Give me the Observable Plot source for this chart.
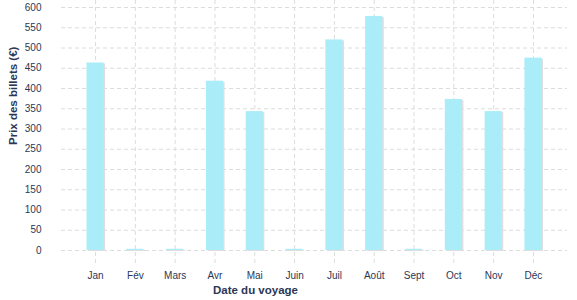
<!DOCTYPE html>
<html>
<head>
<meta charset="utf-8">
<script src="https://cdn.jsdelivr.net/npm/d3@7"></script>
<script src="https://cdn.jsdelivr.net/npm/@observablehq/plot@0.6"></script>
<style>
  body { margin: 0; background: #fff; }
  svg { font-family: "Liberation Sans", Arial, sans-serif; }
</style>
</head>
<body>
<div id="chart"></div>
<script>
const months = ["Jan", "Fév", "Mars", "Avr", "Mai", "Juin", "Juil", "Août", "Sept", "Oct", "Nov", "Déc"];
const prices = [463, 3, 3, 418, 343, 3, 520, 578, 3, 373, 343, 475];
const yTicks = [0, 50, 100, 150, 200, 250, 300, 350, 400, 450, 500, 550, 600];
const xTitle = "Date du voyage";
const yTitle = "Prix des billets (€)";

const data = months.map((m, i) => ({month: m, price: prices[i]}));
const textColor = "#2b3756";
const gridColor = "#dcdcdc";

const chart = Plot.plot({
  width: 577,
  height: 300,
  marginLeft: 61,
  marginRight: 10,
  marginTop: 0,
  marginBottom: 35,
  style: {fontSize: "10px", color: textColor, fontFamily: "'Liberation Sans', Arial, sans-serif"},
  x: {domain: months, paddingInner: 0.57, paddingOuter: 0.64, round: false, label: null},
  y: {domain: [0, 600], insetTop: 7, insetBottom: 15, label: null},
  marks: [
    Plot.gridX({stroke: gridColor, strokeOpacity: 1, strokeDasharray: "4,3"}),
    Plot.ruleY(yTicks, {stroke: gridColor, strokeDasharray: "4,3"}),
    Plot.barY(data, {x: "month", y: "price", fill: "#dedede", dx: 1.5, dy: 1}),
    Plot.barY(data, {x: "month", y: "price", fill: "#aaedf8"}),
    Plot.axisX({tickSize: 0, tickPadding: 6, fill: textColor, label: null}),
    Plot.axisY({ticks: yTicks, tickSize: 0, tickPadding: 20, fill: textColor, label: null}),
    Plot.text([xTitle], {frameAnchor: "bottom", dx: -59, dy: 28, fontWeight: "bold", fill: textColor, fontSize: 11.5}),
    Plot.text([yTitle], {frameAnchor: "left", dx: -48, dy: 12, rotate: -90, fontWeight: "bold", fill: textColor, fontSize: 11.5})
  ]
});
document.getElementById("chart").append(chart);
</script>
</body>
</html>
